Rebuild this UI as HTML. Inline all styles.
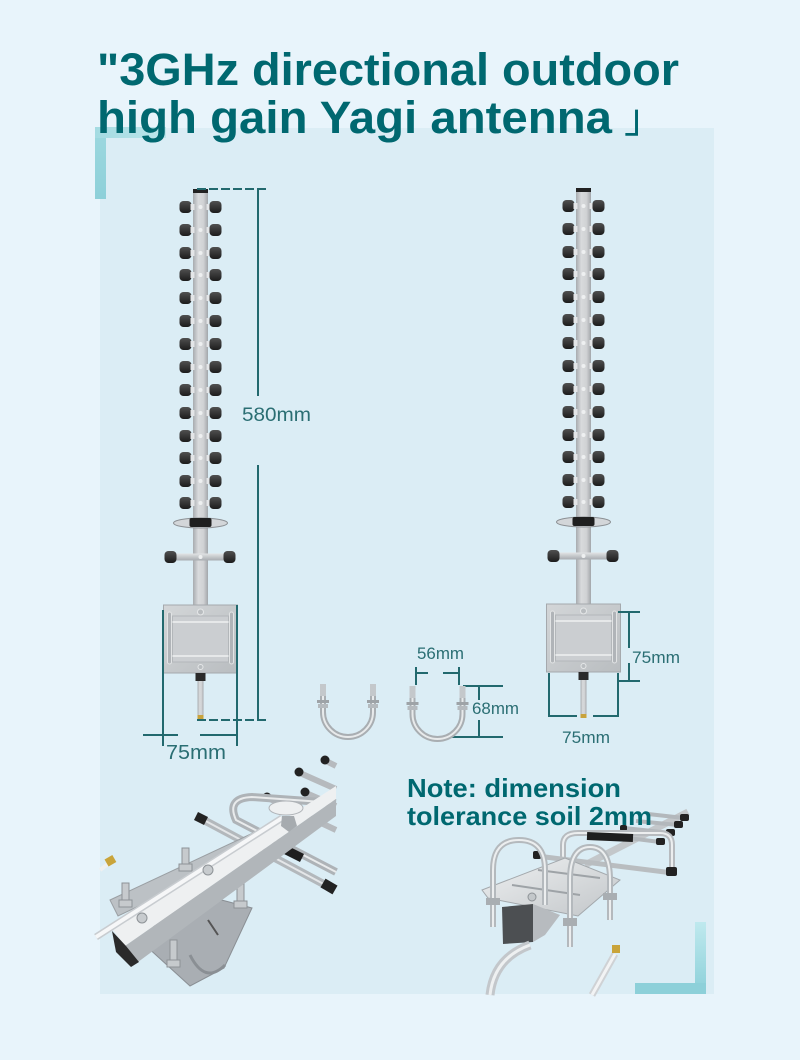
<!DOCTYPE html>
<html><head><meta charset="utf-8">
<style>html,body{margin:0;padding:0;background:#e8f4fb;}svg{display:block}</style>
</head>
<body>
<svg width="800" height="1060" viewBox="0 0 800 1060" xmlns="http://www.w3.org/2000/svg">
<defs>
 <linearGradient id="boomG" x1="0" x2="1" y1="0" y2="0">
  <stop offset="0" stop-color="#a7abaf"/><stop offset="0.35" stop-color="#d8dadc"/><stop offset="0.7" stop-color="#d0d2d4"/><stop offset="1" stop-color="#a2a6aa"/>
 </linearGradient>
 <linearGradient id="barG" x1="0" x2="0" y1="0" y2="1">
  <stop offset="0" stop-color="#e2e4e6"/><stop offset="1" stop-color="#a7abaf"/>
 </linearGradient>
 <linearGradient id="capG" x1="0" x2="0" y1="0" y2="1">
  <stop offset="0" stop-color="#505050"/><stop offset="1" stop-color="#1c1c1c"/>
 </linearGradient>
 <linearGradient id="plateG" x1="0" x2="1" y1="0" y2="1">
  <stop offset="0" stop-color="#d3d6d8"/><stop offset="1" stop-color="#b9bdc0"/>
 </linearGradient>
 <linearGradient id="lV1" x1="0" x2="0" y1="0" y2="1">
  <stop offset="0" stop-color="#9dd8df"/><stop offset="1" stop-color="#8dd0d9"/>
 </linearGradient>
 <linearGradient id="lH1" x1="0" x2="1" y1="0" y2="0">
  <stop offset="0" stop-color="#a4dbe2"/><stop offset="1" stop-color="#bde6eb"/>
 </linearGradient>
 <linearGradient id="lV2" x1="0" x2="0" y1="0" y2="1">
  <stop offset="0" stop-color="#bfe9ee"/><stop offset="1" stop-color="#8bd0d9"/>
 </linearGradient>
 <linearGradient id="sPlate" x1="0" x2="1" y1="0" y2="1">
  <stop offset="0" stop-color="#eef0f1"/><stop offset="1" stop-color="#c2c6c9"/>
 </linearGradient>
 <g id="pair">
   <rect x="-21" y="-6" width="12" height="12" rx="4" fill="url(#capG)"/>
   <rect x="-10" y="-3" width="4" height="6" fill="#e4e6e8"/>
   <rect x="6" y="-3" width="4" height="6" fill="#e4e6e8"/>
   <rect x="9" y="-6" width="12" height="12" rx="4" fill="url(#capG)"/>
   <circle cx="0" cy="0" r="2" fill="#eef0f1"/>
 </g>
 <g id="ant">
   <rect x="-7.5" y="190" width="15" height="416" fill="url(#boomG)"/>
   <rect x="-7.5" y="189" width="15" height="4" fill="#222"/>
   <use href="#pair" y="207"/>
   <use href="#pair" y="230"/>
   <use href="#pair" y="253"/>
   <use href="#pair" y="275"/>
   <use href="#pair" y="298"/>
   <use href="#pair" y="321"/>
   <use href="#pair" y="344"/>
   <use href="#pair" y="367"/>
   <use href="#pair" y="390"/>
   <use href="#pair" y="413"/>
   <use href="#pair" y="436"/>
   <use href="#pair" y="458"/>
   <use href="#pair" y="481"/>
   <use href="#pair" y="503"/>
   <ellipse cx="0" cy="523" rx="27" ry="5" fill="#d3d6d9" stroke="#8c9094" stroke-width="1"/>
   <rect x="-11" y="518" width="22" height="9" rx="2" fill="#1f1f1f"/>
   <rect x="-26" y="553.5" width="52" height="7" fill="url(#barG)"/>
   <rect x="-36" y="551" width="12" height="12" rx="4" fill="url(#capG)"/>
   <rect x="23" y="551" width="12" height="12" rx="4" fill="url(#capG)"/>
   <circle cx="0" cy="557" r="2" fill="#eef0f1"/>
   <rect x="-37" y="605" width="74" height="68" fill="url(#plateG)" stroke="#a5a9ad" stroke-width="1"/>
   <rect x="-28" y="616" width="56" height="46" fill="#cbced1" stroke="#b3b7ba" stroke-width="1"/>
   <line x1="-28" y1="622" x2="28" y2="622" stroke="#e6e8e9" stroke-width="2"/>
   <line x1="-28" y1="656" x2="28" y2="656" stroke="#e6e8e9" stroke-width="2"/>
   <rect x="-33" y="612" width="4" height="52" rx="2" fill="#b0b4b8" stroke="#e2e4e5" stroke-width="1"/>
   <rect x="29" y="612" width="4" height="52" rx="2" fill="#b0b4b8" stroke="#e2e4e5" stroke-width="1"/>
   <circle cx="0" cy="612" r="3" fill="#b9bdc0" stroke="#e5e7e8" stroke-width="1"/>
   <circle cx="0" cy="667" r="2.5" fill="#b9bdc0" stroke="#e5e7e8" stroke-width="1"/>
   <rect x="-5" y="673" width="10" height="8" fill="#2a2a2a"/>
   <rect x="-3" y="681" width="6" height="36" fill="url(#boomG)"/>
   <rect x="-3" y="715" width="6" height="4" fill="#c8a33c"/>
 </g>
 <g id="ubolt">
   <path d="M0,0 L0,27 A25,25 0 0 0 50,27 L50,0" fill="none" stroke="#a9aeb2" stroke-width="6"/>
   <path d="M0,0 L0,27 A25,25 0 0 0 50,27 L50,0" fill="none" stroke="#e8eaeb" stroke-width="2"/>
   <rect x="-6" y="15" width="12" height="3" fill="#9ea3a7"/>
   <rect x="-5" y="19" width="10" height="4" fill="#b5babe"/>
   <rect x="44" y="15" width="12" height="3" fill="#9ea3a7"/>
   <rect x="45" y="19" width="10" height="4" fill="#b5babe"/>
   <rect x="-3" y="-1" width="6" height="12" fill="#c4c8cb"/>
   <rect x="47" y="-1" width="6" height="12" fill="#c4c8cb"/>
 </g>
</defs>

<!-- background & panel -->
<rect x="0" y="0" width="800" height="1060" fill="#e8f4fb"/>
<rect x="100" y="128" width="614" height="866" fill="#dbedf5"/>

<!-- corner marks -->
<rect x="95" y="127" width="11" height="72" fill="url(#lV1)"/>
<rect x="95" y="127" width="71" height="11" fill="url(#lH1)"/>
<rect x="695" y="922" width="11" height="72" fill="url(#lV2)"/>
<rect x="635" y="983" width="71" height="11" fill="#8dd0d9"/>

<!-- title -->
<g font-family="Liberation Sans, sans-serif" font-weight="bold" fill="#006870">
 <text x="97" y="85" font-size="45" textLength="582" lengthAdjust="spacingAndGlyphs">"3GHz directional outdoor</text>
 <text x="97" y="133" font-size="45" textLength="515" lengthAdjust="spacingAndGlyphs">high gain Yagi antenna</text>
</g>
<text x="624" y="132" font-family="Liberation Sans, 'Noto Sans CJK JP', sans-serif" font-size="40" fill="#006870">」</text>

<!-- antennas -->
<use href="#ant" x="200.5"/>
<use href="#ant" x="583.5" y="-1"/>

<!-- left dimensions -->
<g stroke="#22696e" stroke-width="2" fill="none">
 <line x1="197" y1="189" x2="266" y2="189" stroke-dasharray="9 3"/>
 <line x1="258" y1="189" x2="258" y2="396"/>
 <line x1="258" y1="465" x2="258" y2="720"/>
 <line x1="197" y1="720" x2="266" y2="720" stroke-dasharray="9 3"/>
 <line x1="163" y1="610" x2="163" y2="746"/>
 <line x1="237" y1="605" x2="237" y2="746"/>
 <line x1="143" y1="735" x2="178" y2="735"/>
 <line x1="200" y1="735" x2="237" y2="735"/>
 <!-- right -->
 <line x1="618" y1="612" x2="640" y2="612"/>
 <line x1="618" y1="681" x2="640" y2="681"/>
 <line x1="629" y1="612" x2="629" y2="648"/>
 <line x1="629" y1="663" x2="629" y2="681"/>
 <line x1="549" y1="673" x2="549" y2="717"/>
 <line x1="618" y1="673" x2="618" y2="717"/>
 <line x1="549" y1="716" x2="577" y2="716"/>
 <line x1="593" y1="716" x2="618" y2="716"/>
 <!-- u-bolt dims -->
 <line x1="416" y1="667" x2="416" y2="685"/>
 <line x1="459" y1="667" x2="459" y2="685"/>
 <line x1="416" y1="673" x2="428" y2="673"/>
 <line x1="443" y1="673" x2="459" y2="673"/>
 <line x1="463" y1="686" x2="503" y2="686"/>
 <line x1="442" y1="737" x2="503" y2="737"/>
 <line x1="479" y1="686" x2="479" y2="700"/>
 <line x1="479" y1="720" x2="479" y2="737"/>
</g>
<g font-family="Liberation Sans, sans-serif" fill="#2a6e73">
 <text x="242" y="421" font-size="19" textLength="69" lengthAdjust="spacingAndGlyphs">580mm</text>
 <text x="166" y="759" font-size="20" textLength="60" lengthAdjust="spacingAndGlyphs">75mm</text>
 <text x="632" y="663" font-size="17" textLength="48" lengthAdjust="spacingAndGlyphs">75mm</text>
 <text x="562" y="743" font-size="17" textLength="48" lengthAdjust="spacingAndGlyphs">75mm</text>
 <text x="417" y="659" font-size="17" textLength="47" lengthAdjust="spacingAndGlyphs">56mm</text>
 <text x="472" y="714" font-size="17" textLength="47" lengthAdjust="spacingAndGlyphs">68mm</text>
</g>

<!-- u-bolts -->
<use href="#ubolt" x="323" y="685"/>
<use href="#ubolt" x="412.5" y="687"/>

<!-- left photo -->
<g>
 <g stroke="#b6babe" stroke-width="6">
  <line x1="300" y1="773" x2="336" y2="789"/>
  <line x1="326" y1="761" x2="336" y2="766"/>
  <line x1="306" y1="793" x2="336" y2="806"/>
  <line x1="268" y1="798" x2="336" y2="830"/>
 </g>
 <g fill="#222">
  <circle cx="299" cy="772" r="4.5"/>
  <circle cx="325" cy="760" r="4.5"/>
  <circle cx="305" cy="792" r="4.5"/>
  <circle cx="267" cy="797" r="4.5"/>
 </g>
 <path d="M336,803 L252,797 Q226,798 236,820 L336,872" fill="none" stroke="#aeb3b7" stroke-width="8"/>
 <path d="M336,803 L252,797 Q226,798 236,820 L336,872" fill="none" stroke="#e9ebec" stroke-width="2"/>
 <line x1="200" y1="818" x2="333" y2="889" stroke="#b3b8bc" stroke-width="8"/>
 <line x1="200" y1="818" x2="333" y2="889" stroke="#e4e6e8" stroke-width="2"/>
 <line x1="196" y1="816" x2="206" y2="821" stroke="#222" stroke-width="9"/>
 <line x1="323" y1="883" x2="335" y2="890" stroke="#222" stroke-width="10"/>
 <line x1="278" y1="846" x2="302" y2="858" stroke="#1e1e1e" stroke-width="9"/>
 <!-- strip -->
 <polygon points="110,900 268,826 276,840 118,916" fill="#bcc1c5" stroke="#9a9fa3" stroke-width="1"/>
 <!-- saddle -->
 <polygon points="172,887 252,908 224,968 190,986 145,945" fill="#a9aeb3" stroke="#8a8f94" stroke-width="1"/>
 <path d="M190,955 Q205,985 225,965" fill="none" stroke="#8a8f94" stroke-width="3"/>
 <line x1="208" y1="920" x2="218" y2="935" stroke="#555" stroke-width="2"/>
 <!-- bolts -->
 <g fill="#c6cacd" stroke="#8d9296" stroke-width="1">
  <rect x="122" y="883" width="7" height="22"/><rect x="119" y="900" width="13" height="7"/>
  <rect x="182" y="848" width="7" height="20"/><rect x="179" y="864" width="13" height="7"/>
  <rect x="237" y="884" width="7" height="21"/><rect x="234" y="901" width="13" height="7"/>
  <rect x="170" y="940" width="7" height="24"/><rect x="167" y="960" width="13" height="7"/>
 </g>
 <!-- boom -->
 <polygon points="113,930 336,786 336,799 125,946" fill="#eef0f1"/>
 <polygon points="125,946 336,799 336,816 138,962" fill="#b1b6ba"/>
 <polygon points="112,931 126,946 139,962 131,967 116,952" fill="#2a2a2a"/>
 <line x1="96" y1="937" x2="282" y2="818" stroke="#c8ccd0" stroke-width="7"/>
 <line x1="96" y1="937" x2="282" y2="818" stroke="#f6f7f8" stroke-width="4"/>
 <ellipse cx="286" cy="808" rx="17" ry="7" fill="#eef0f1" stroke="#b0b4b8" stroke-width="1"/>
 <polygon points="282,816 294,816 297,826 289,832 281,826" fill="#a6abaf"/>
 <circle cx="208" cy="870" r="5" fill="#c7cbce" stroke="#8e9397" stroke-width="1"/>
 <circle cx="142" cy="918" r="5" fill="#c7cbce" stroke="#8e9397" stroke-width="1"/>
 <line x1="100" y1="870" x2="108" y2="864" stroke="#eef0f1" stroke-width="4"/>
 <rect x="106" y="857" width="9" height="8" fill="#c9a43a" transform="rotate(-30 110 861)"/>
</g>

<!-- right photo -->
<g>
 <line x1="585" y1="865" x2="688" y2="812" stroke="#c3c7ca" stroke-width="7"/>
 <g stroke="#b3b8bc" stroke-width="4">
  <line x1="612" y1="836" x2="660" y2="842"/>
  <line x1="624" y1="828" x2="670" y2="833"/>
  <line x1="636" y1="821" x2="678" y2="825"/>
  <line x1="648" y1="814" x2="684" y2="818"/>
 </g>
 <g fill="#222">
  <rect x="656" y="838" width="9" height="7" rx="2"/>
  <rect x="666" y="829" width="9" height="7" rx="2"/>
  <rect x="674" y="821" width="9" height="7" rx="2"/>
  <rect x="680" y="814" width="9" height="7" rx="2"/>
  <rect x="608" y="832" width="7" height="6" rx="2"/>
  <rect x="620" y="825" width="7" height="6" rx="2"/>
 </g>
 <path d="M563,868 L563,845 Q563,833 578,833 L660,833 Q672,833 672,845 L672,870" fill="none" stroke="#b7bbbf" stroke-width="6"/>
 <path d="M563,868 L563,845 Q563,833 578,833 L660,833 Q672,833 672,845 L672,870" fill="none" stroke="#eceeef" stroke-width="2"/>
 <line x1="587" y1="836" x2="633" y2="838" stroke="#1e1e1e" stroke-width="8"/>
 <line x1="537" y1="856" x2="673" y2="873" stroke="#b9bdc0" stroke-width="5"/>
 <rect x="533" y="851" width="8" height="8" rx="2" fill="#222"/>
 <rect x="666" y="867" width="11" height="9" rx="2" fill="#222"/>
 <!-- plate -->
 <polygon points="482,890 565,858 620,880 578,916 488,898" fill="url(#sPlate)" stroke="#a3a8ac" stroke-width="1"/>
 <line x1="538" y1="870" x2="600" y2="878" stroke="#9ea3a7" stroke-width="2"/>
 <line x1="512" y1="885" x2="580" y2="895" stroke="#9ea3a7" stroke-width="2"/>
 <circle cx="532" cy="897" r="4" fill="#c3c7ca" stroke="#8e9397" stroke-width="1"/>
 <!-- box -->
 <polygon points="502,907 533,904 533,942 503,944" fill="#4c4f52"/>
 <polygon points="533,904 560,915 545,935 533,942" fill="#b7bbbf"/>
 <!-- u-bolts front -->
 <path d="M493,927 L493,870 Q493,840 519,840 Q545,840 545,870 L545,905" fill="none" stroke="#b4b9bd" stroke-width="6"/>
 <path d="M493,927 L493,870 Q493,840 519,840 Q545,840 545,870 L545,905" fill="none" stroke="#eceeef" stroke-width="2"/>
 <path d="M570,947 L570,880 Q570,847 590,847 Q610,847 610,880 L610,920" fill="none" stroke="#b4b9bd" stroke-width="6"/>
 <path d="M570,947 L570,880 Q570,847 590,847 Q610,847 610,880 L610,920" fill="none" stroke="#eceeef" stroke-width="2"/>
 <g fill="#a9aeb2">
  <rect x="486" y="898" width="14" height="7"/>
  <rect x="563" y="918" width="14" height="8"/>
  <rect x="603" y="893" width="14" height="7"/>
 </g>
 <!-- cables -->
 <path d="M490,995 Q494,958 530,945" fill="none" stroke="#c3c7cb" stroke-width="9"/>
 <path d="M490,995 Q494,958 530,945" fill="none" stroke="#eef0f1" stroke-width="3"/>
 <line x1="592" y1="995" x2="615" y2="954" stroke="#cfd2d5" stroke-width="7"/>
 <line x1="592" y1="995" x2="615" y2="954" stroke="#f2f3f4" stroke-width="3"/>
 <rect x="612" y="945" width="8" height="8" fill="#c9a43a"/>
</g>

<!-- note text -->
<g font-family="Liberation Sans, sans-serif" font-weight="bold" fill="#006870">
 <text x="407" y="797" font-size="26" textLength="214" lengthAdjust="spacingAndGlyphs">Note: dimension</text>
 <text x="407" y="825" font-size="26" textLength="245" lengthAdjust="spacingAndGlyphs">tolerance soil 2mm</text>
</g>
</svg>
</body></html>
